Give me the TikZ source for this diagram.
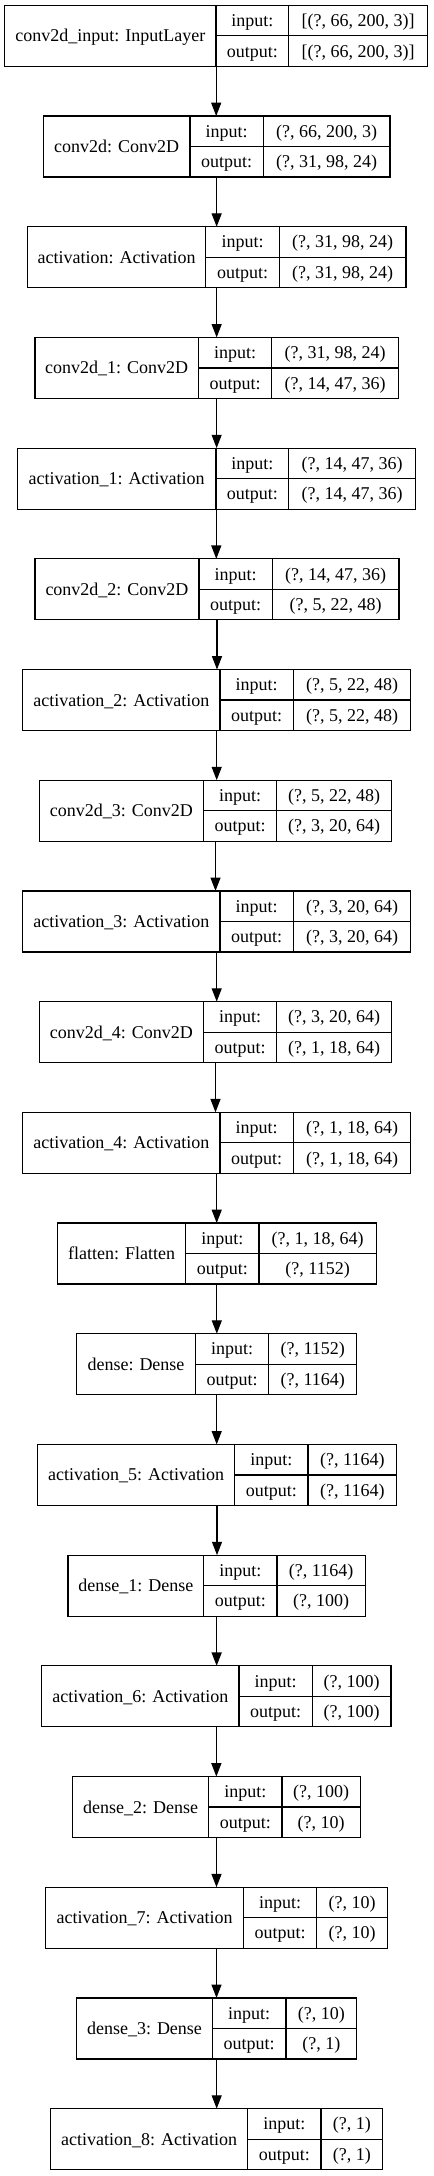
\documentclass[tikz,border=0pt]{standalone}
\usepackage{fontspec}
\setmainfont{Liberation Serif}
\usetikzlibrary{arrows.meta}
\tikzset{
  boxst/.style={draw=black, line width=0.9pt, inner sep=0pt, outer sep=0pt, anchor=north west, fill=white},
  cell/.style={draw=black, line width=0.9pt},
  txt/.style={anchor=base, inner sep=0pt, font=\fontsize{13.5}{15}\selectfont},
  arr/.style={draw=black, line width=0.9pt, -{Triangle[length=10pt,width=7.5pt]}}
}
% #1 index, #2..#5 x positions, #6 label, #7 input, #8 output
\newcommand\kerlayer[8]{%
  \pgfmathsetmacro\kyt{5.3+110.7*#1}%
  \pgfmathsetmacro\kyb{\kyt+61}%
  \pgfmathsetmacro\kym{\kyt+30.5}%
  \pgfmathsetmacro\kwid{(#5-#2)*0.75}%
  \pgfmathsetmacro\kylab{\kym+6}%
  \pgfmathsetmacro\kyin{\kyt+15.25+6}%
  \pgfmathsetmacro\kyout{\kym+15.25+6}%
  \pgfmathsetmacro\kxa{(#2+#3)/2}%
  \pgfmathsetmacro\kxb{(#3+#4)/2}%
  \pgfmathsetmacro\kxc{(#4+#5)/2}%
  \node[boxst, minimum width=\kwid pt, minimum height=45.75pt] (l#1) at (#2,\kyt) {};
  \draw[cell] (#3,\kyt) -- (#3,\kyb);
  \draw[cell] (#4,\kyt) -- (#4,\kyb);
  \draw[cell] (#3,\kym) -- (#5,\kym);
  \node[txt] (l#1-lab) at (\kxa,\kylab) {#6};
  \node[txt] (l#1-ik) at (\kxb,\kyin) {input:};
  \node[txt] (l#1-ok) at (\kxb,\kyout) {output:};
  \node[txt] (l#1-iv) at (\kxc,\kyin) {#7};
  \node[txt] (l#1-ov) at (\kxc,\kyout) {#8};
}
\begin{document}
\begin{tikzpicture}[x=0.75pt,y=-0.75pt]
\fill[white] (0,0) rectangle (433,2176);
\useasboundingbox (0,0) rectangle (433,2176);
\kerlayer{0}{4.7}{216}{288.7}{427.7}{conv2d\_input: InputLayer}{[(?, 66, 200, 3)]}{[(?, 66, 200, 3)]}
\kerlayer{1}{43.3}{190}{263.3}{390}{conv2d: Conv2D}{(?, 66, 200, 3)}{(?, 31, 98, 24)}
\kerlayer{2}{27.3}{205.7}{279.3}{406}{activation: Activation}{(?, 31, 98, 24)}{(?, 31, 98, 24)}
\kerlayer{3}{35}{198.3}{271.7}{398.3}{conv2d\_1: Conv2D}{(?, 31, 98, 24)}{(?, 14, 47, 36)}
\kerlayer{4}{17.3}{216}{288.7}{415.3}{activation\_1: Activation}{(?, 14, 47, 36)}{(?, 14, 47, 36)}
\kerlayer{5}{35}{199}{272.3}{399}{conv2d\_2: Conv2D}{(?, 14, 47, 36)}{(?, 5, 22, 48)}
\kerlayer{6}{22.7}{220}{293.3}{410.7}{activation\_2: Activation}{(?, 5, 22, 48)}{(?, 5, 22, 48)}
\kerlayer{7}{39.3}{203.3}{276.7}{391.7}{conv2d\_3: Conv2D}{(?, 5, 22, 48)}{(?, 3, 20, 64)}
\kerlayer{8}{22.7}{220}{293.3}{410.7}{activation\_3: Activation}{(?, 3, 20, 64)}{(?, 3, 20, 64)}
\kerlayer{9}{39.3}{203.3}{276.7}{391.7}{conv2d\_4: Conv2D}{(?, 3, 20, 64)}{(?, 1, 18, 64)}
\kerlayer{10}{22.7}{220}{293.3}{410.7}{activation\_4: Activation}{(?, 1, 18, 64)}{(?, 1, 18, 64)}
\kerlayer{11}{57.3}{185.7}{259}{376.3}{flatten: Flatten}{(?, 1, 18, 64)}{(?, 1152)}
\kerlayer{12}{76.7}{195.3}{268.7}{356.7}{dense: Dense}{(?, 1152)}{(?, 1164)}
\kerlayer{13}{37.3}{234.7}{308}{396.7}{activation\_5: Activation}{(?, 1164)}{(?, 1164)}
\kerlayer{14}{68}{203.7}{277}{365.3}{dense\_1: Dense}{(?, 1164)}{(?, 100)}
\kerlayer{15}{41.7}{239}{312.3}{391}{activation\_6: Activation}{(?, 100)}{(?, 100)}
\kerlayer{16}{72.7}{208.7}{282}{360.3}{dense\_2: Dense}{(?, 100)}{(?, 10)}
\kerlayer{17}{45.7}{243.3}{316.7}{387.3}{activation\_7: Activation}{(?, 10)}{(?, 10)}
\kerlayer{18}{76.7}{212.3}{286}{356.7}{dense\_3: Dense}{(?, 10)}{(?, 1)}
\kerlayer{19}{50.7}{247.7}{321}{382.7}{activation\_8: Activation}{(?, 1)}{(?, 1)}
\foreach \i [evaluate=\i as \j using int(\i+1)] in {0,...,18} {
  \draw[arr] (l\i.south) -- (l\i.south |- l\j.north);
}
\end{tikzpicture}
\end{document}
